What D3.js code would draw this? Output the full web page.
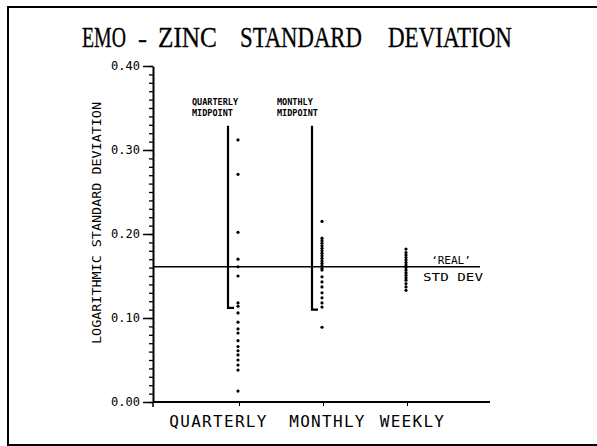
<!DOCTYPE html>
<html>
<head>
<meta charset="utf-8">
<script src="https://cdnjs.cloudflare.com/ajax/libs/d3/7.8.5/d3.min.js"></script>
<style>
  body { margin: 0; background: #fff; }
  svg { display: block; }
</style>
</head>
<body>
<svg width="597" height="446"></svg>
<script>
// data
const categories = ['QUARTERLY', 'MONTHLY', 'WEEKLY'];
const quarterly = [0.312, 0.271, 0.202, 0.170, 0.161, 0.150, 0.118, 0.114, 0.106, 0.095,
                   0.087, 0.082, 0.073, 0.066, 0.061, 0.056, 0.050, 0.044, 0.038, 0.013];
const monthly = [0.215, 0.195, 0.192, 0.189, 0.186, 0.183, 0.180, 0.177, 0.174, 0.171,
                 0.168, 0.165, 0.162, 0.159, 0.157, 0.149, 0.143, 0.137, 0.130, 0.124,
                 0.118, 0.113, 0.089];
const weekly = [0.182, 0.178, 0.175, 0.172, 0.169, 0.166, 0.163, 0.160, 0.157, 0.154,
                0.151, 0.148, 0.145, 0.141, 0.137, 0.133];
const midpointLabels = ['QUARTERLY', 'MONTHLY'];
const midpointTop = [0.329, 0.329];
const midpointBottom = [0.112, 0.110];
const realStdDev = 0.161;
const yMajorTicks = [0, 0.1, 0.2, 0.3, 0.4];
const titleWords = ['EMO', '-', 'ZINC', 'STANDARD', 'DEVIATION'];

const svg = d3.select('svg');
const mono = 'DejaVu Sans Mono, monospace';

// frame (right edge falls outside the picture)
svg.append('rect')
    .attr('x', 8).attr('y', 7)
    .attr('width', 600).attr('height', 438)
    .attr('fill', 'none').attr('stroke', '#000').attr('stroke-width', 2);

// title, word by word, squeezed horizontally like the plotter lettering
const titleSpans = [[82, 44], [138, 9], [158, 59], [240, 122], [388, 124]];
svg.append('g').selectAll('text')
    .data(titleWords)
    .enter().append('text')
    .style('font-family', 'Liberation Serif, serif')
    .style('font-size', (d, i) => i === 1 ? '24px' : '29px')
    .attr('stroke', '#000').attr('stroke-width', 0.3)
    .text(d => d)
    .attr('transform', function(d, i) {
        const k = titleSpans[i][1] / this.getComputedTextLength();
        return `translate(${titleSpans[i][0]},47) scale(${k},1)`;
    });

const x = d3.scaleLinear().domain([0, 4]).range([155, 491]);
const y = d3.scaleLinear().domain([0, 0.4]).range([402, 66]);

// y axis: minor ticks every 0.01, major every 0.1
svg.append('g')
    .attr('transform', 'translate(153,0)')
    .call(d3.axisLeft(y).tickValues(d3.range(0, 41).map(i => i / 100)).tickSize(4).tickFormat(''))
    .call(g => g.select('.domain').remove())
    .selectAll('line').attr('stroke-width', 1.3);

const yAxis = svg.append('g')
    .attr('transform', 'translate(153,0)')
    .call(d3.axisLeft(y).tickValues(yMajorTicks).tickSize(10).tickSizeOuter(0)
        .tickFormat(d3.format('.2f')).tickPadding(3));
yAxis.select('.domain').attr('stroke-width', 2);
yAxis.selectAll('line').attr('stroke-width', 1.5);
yAxis.selectAll('text')
    .style('font-family', mono)
    .style('font-size', '12px')
    .attr('fill', '#000');

// y axis title
svg.append('text')
    .attr('transform', 'translate(101,223) rotate(-90)')
    .attr('text-anchor', 'middle')
    .attr('textLength', 242)
    .attr('lengthAdjust', 'spacingAndGlyphs')
    .style('font-family', mono)
    .style('font-size', '12px')
    .text('LOGARITHMIC STANDARD DEVIATION');

// x axis
svg.append('line')
    .attr('x1', 153).attr('x2', 490)
    .attr('y1', y(0)).attr('y2', y(0))
    .attr('stroke', '#000').attr('stroke-width', 2);
const xAxis = svg.append('g')
    .attr('transform', `translate(0,${y(0)})`)
    .call(d3.axisBottom(x).tickValues([1, 2, 3]).tickSize(4).tickSizeOuter(0)
        .tickFormat(i => categories[i - 1]).tickPadding(6));
xAxis.select('.domain').remove();
const labelShift = [-21, 4, 5];
xAxis.selectAll('text')
    .attr('dx', (d, i) => labelShift[i])
    .attr('dy', '0.95em')
    .style('font-family', mono)
    .style('font-size', '16px')
    .style('letter-spacing', '1.3px')
    .attr('fill', '#000');
svg.append('line')
    .attr('x1', 153).attr('x2', 153)
    .attr('y1', y(0)).attr('y2', y(0) + 5)
    .attr('stroke', '#000').attr('stroke-width', 1.5);

// 'real' std dev reference line
svg.append('line')
    .attr('x1', 153).attr('x2', 480)
    .attr('y1', y(realStdDev)).attr('y2', y(realStdDev))
    .attr('stroke', '#000').attr('stroke-width', 1.3);
const realLbl = svg.append('g')
    .style('font-family', mono)
    .style('font-size', '11px')
    .attr('text-anchor', 'middle');
realLbl.append('text').attr('x', 451).attr('y', y(realStdDev) - 3).text('\u2018REAL\u2019');
realLbl.append('text').attr('x', 453).attr('y', y(realStdDev) + 14)
    .attr('textLength', 60).attr('lengthAdjust', 'spacingAndGlyphs').text('STD DEV');

// midpoint brackets
const bracketX = i => x(i + 1) - 11;
svg.append('g').selectAll('path')
    .data(midpointTop)
    .enter().append('path')
    .attr('d', (d, i) => `M${bracketX(i)},${y(d)}V${y(midpointBottom[i])}h6`)
    .attr('fill', 'none').attr('stroke', '#000').attr('stroke-width', 2.2);

const mpLbl = svg.append('g').selectAll('text')
    .data(midpointLabels)
    .enter().append('text')
    .attr('x', (d, i) => x(i + 1) - 47 + i)
    .attr('y', 105)
    .style('font-family', mono)
    .style('font-size', '8.5px')
    .style('font-weight', 'bold');
mpLbl.append('tspan').text(d => d);
mpLbl.append('tspan').attr('x', (d, i) => x(i + 1) - 47 + i).attr('dy', 11).text('MIDPOINT');

// points
const series = [quarterly, monthly, weekly];
series.forEach((vals, i) => {
    svg.append('g').selectAll('circle')
        .data(vals)
        .enter().append('circle')
        .attr('cx', x(i + 1) - 1)
        .attr('cy', d => y(d))
        .attr('r', 1.6)
        .attr('fill', '#000');
});
</script>
</body>
</html>
